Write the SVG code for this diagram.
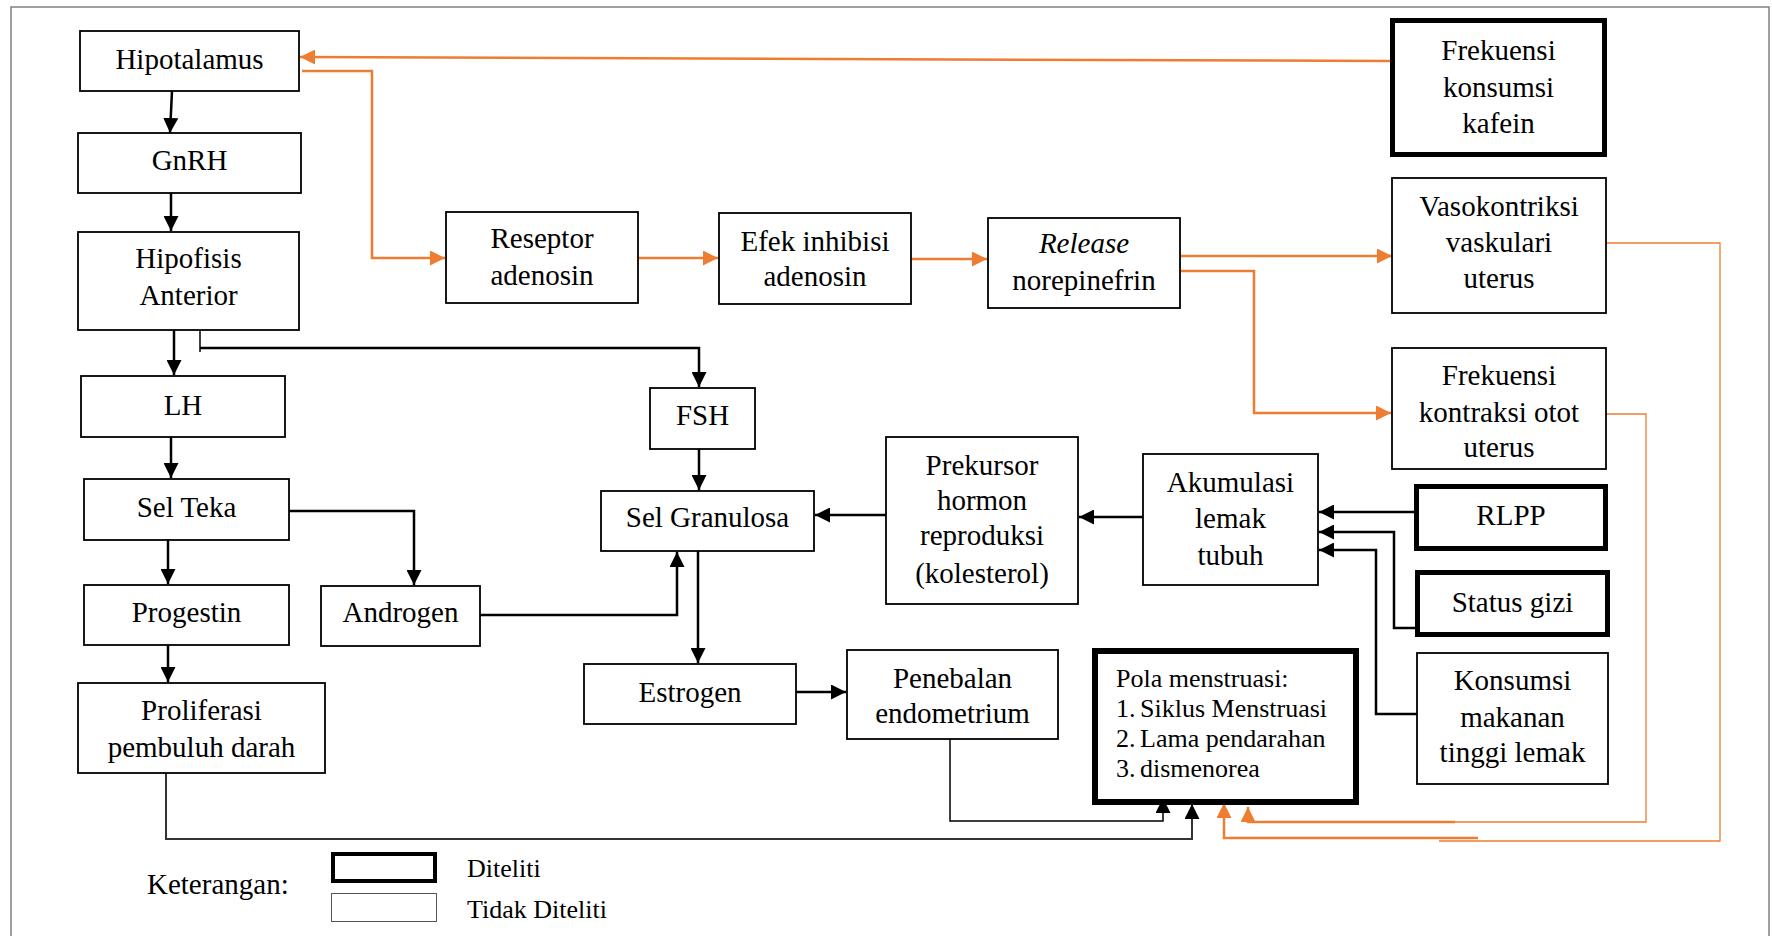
<svg xmlns="http://www.w3.org/2000/svg" width="1772" height="936" viewBox="0 0 1772 936">
<defs>
<style>
.box{fill:#fff;stroke:#000;stroke-width:1.8}
.thick{fill:#fff;stroke:#000;stroke-width:5}
.t{font-family:"Liberation Serif","Times New Roman",serif;font-size:29px;fill:#000;text-anchor:middle}
.tl{font-family:"Liberation Serif","Times New Roman",serif;font-size:26px;fill:#000}
.lg{font-family:"Liberation Serif","Times New Roman",serif;font-size:26px;fill:#000}
.lk{font-family:"Liberation Serif","Times New Roman",serif;font-size:29px;fill:#000}
.k{fill:none;stroke:#000;stroke-width:2.5}
.kt{fill:none;stroke:#000;stroke-width:1.5}
.o{fill:none;stroke:#ED7D31;stroke-width:2.5}
.ot{fill:none;stroke:#ED7D31;stroke-width:1.3}
</style>
<marker id="ab" viewBox="0 0 15 15" refX="15" refY="7.5" markerWidth="15" markerHeight="15" markerUnits="userSpaceOnUse" orient="auto"><path d="M0,0 L15,7.5 L0,15 z" fill="#000"/></marker>
<marker id="ao" viewBox="0 0 15 15" refX="15" refY="7.5" markerWidth="15" markerHeight="15" markerUnits="userSpaceOnUse" orient="auto"><path d="M0,0 L15,7.5 L0,15 z" fill="#ED7D31"/></marker>
</defs>
<rect x="0" y="0" width="1772" height="936" fill="#fff"/>
<rect x="11" y="7" width="1758" height="945" fill="none" stroke="#808080" stroke-width="1.5"/>

<g id="connectors">
<path class="k" d="M172,91 L170,133" marker-end="url(#ab)"/>
<path class="k" d="M171,193 V231" marker-end="url(#ab)"/>
<path class="k" d="M174,330 V375" marker-end="url(#ab)"/>
<path class="kt" d="M200,328 V352"/>
<path class="k" d="M200,348 H699 V387" marker-end="url(#ab)"/>
<path class="k" d="M171,437 V478" marker-end="url(#ab)"/>
<path class="k" d="M168,540 V584" marker-end="url(#ab)"/>
<path class="k" d="M289,511 H414 V585" marker-end="url(#ab)"/>
<path class="k" d="M168,645 V682" marker-end="url(#ab)"/>
<path class="k" d="M480,615 H677 V552" marker-end="url(#ab)"/>
<path class="k" d="M699,449 V490" marker-end="url(#ab)"/>
<path class="k" d="M698,551 V663" marker-end="url(#ab)"/>
<path class="k" d="M886,515 H815" marker-end="url(#ab)"/>
<path class="k" d="M1143,517 H1079" marker-end="url(#ab)"/>
<path class="k" d="M796,692 H846" marker-end="url(#ab)"/>
<path class="k" d="M1414,512 H1319" marker-end="url(#ab)"/>
<path class="k" d="M1415,628 H1394 V532 H1319" marker-end="url(#ab)"/>
<path class="k" d="M1417,714 H1376 V550 H1319" marker-end="url(#ab)"/>
<path class="kt" d="M950,739 V821 H1163 V798" marker-end="url(#ab)"/>
<path fill="none" stroke="#333" stroke-width="2" d="M166,773 V839 H1192 V804" marker-end="url(#ab)"/>
<path class="o" d="M1390,61 L300,57" marker-end="url(#ao)"/>
<path class="o" d="M302,71 H372 V258 H445" marker-end="url(#ao)"/>
<path class="o" d="M639,258 H718" marker-end="url(#ao)"/>
<path class="o" d="M912,259 H987" marker-end="url(#ao)"/>
<path class="o" d="M1181,256 H1392" marker-end="url(#ao)"/>
<path class="o" d="M1181,271 H1254 V413 H1391" marker-end="url(#ao)"/>
<path class="ot" d="M1606,414 H1646 V822 H1455"/>
<path class="o" d="M1455,822 H1248 V807" marker-end="url(#ao)"/>
<path class="ot" d="M1606,243 H1720 V841 H1439"/>
<path class="o" d="M1478,838 H1224 V803" marker-end="url(#ao)"/>
</g>

<g id="hipotalamus"><rect class="box" x="80" y="31" width="219" height="60"/><text class="t" x="189.5" y="69">Hipotalamus</text></g>
<g id="gnrh"><rect class="box" x="78" y="133" width="223" height="60"/><text class="t" x="189.5" y="170">GnRH</text></g>
<g id="hipofisis"><rect class="box" x="78" y="232" width="221" height="98"/><text class="t" x="188.5" y="268">Hipofisis</text><text class="t" x="188.5" y="305">Anterior</text></g>
<g id="lh"><rect class="box" x="81" y="376" width="204" height="61"/><text class="t" x="183" y="415">LH</text></g>
<g id="selteka"><rect class="box" x="84" y="479" width="205" height="61"/><text class="t" x="186.5" y="517">Sel Teka</text></g>
<g id="progestin"><rect class="box" x="84" y="585" width="205" height="60"/><text class="t" x="186.5" y="622">Progestin</text></g>
<g id="androgen"><rect class="box" x="321" y="586" width="159" height="60"/><text class="t" x="400.5" y="622">Androgen</text></g>
<g id="proliferasi"><rect class="box" x="78" y="683" width="247" height="90"/><text class="t" x="201.5" y="720">Proliferasi</text><text class="t" x="201.5" y="757">pembuluh darah</text></g>
<g id="reseptor"><rect class="box" x="446" y="212" width="192" height="91"/><text class="t" x="542" y="248">Reseptor</text><text class="t" x="542" y="285">adenosin</text></g>
<g id="efek"><rect class="box" x="719" y="213" width="192" height="91"/><text class="t" x="815" y="251">Efek inhibisi</text><text class="t" x="815" y="286">adenosin</text></g>
<g id="release"><rect class="box" x="988" y="218" width="192" height="90"/><text class="t" x="1084" y="253" style="font-style:italic">Release</text><text class="t" x="1084" y="290">norepinefrin</text></g>
<g id="kafein"><rect class="thick" x="1392.5" y="20.5" width="212" height="134"/><text class="t" x="1498.5" y="60">Frekuensi</text><text class="t" x="1498.5" y="97">konsumsi</text><text class="t" x="1498.5" y="133">kafein</text></g>
<g id="vasokontriksi"><rect class="box" x="1392" y="178" width="214" height="135"/><text class="t" x="1499" y="216">Vasokontriksi</text><text class="t" x="1499" y="252">vaskulari</text><text class="t" x="1499" y="288">uterus</text></g>
<g id="kontraksi"><rect class="box" x="1392" y="348" width="214" height="121"/><text class="t" x="1499" y="385">Frekuensi</text><text class="t" x="1499" y="422">kontraksi otot</text><text class="t" x="1499" y="457">uterus</text></g>
<g id="fsh"><rect class="box" x="650" y="388" width="105" height="61"/><text class="t" x="702.5" y="425">FSH</text></g>
<g id="selgranulosa"><rect class="box" x="601" y="491" width="213" height="60"/><text class="t" x="707.5" y="527">Sel Granulosa</text></g>
<g id="prekursor"><rect class="box" x="886" y="437" width="192" height="167"/><text class="t" x="982" y="475">Prekursor</text><text class="t" x="982" y="510">hormon</text><text class="t" x="982" y="545">reproduksi</text><text class="t" x="982" y="583">(kolesterol)</text></g>
<g id="akumulasi"><rect class="box" x="1143" y="454" width="175" height="131"/><text class="t" x="1230.5" y="492">Akumulasi</text><text class="t" x="1230.5" y="528">lemak</text><text class="t" x="1230.5" y="565">tubuh</text></g>
<g id="rlpp"><rect class="thick" x="1416.5" y="486.5" width="189" height="62"/><text class="t" x="1511" y="525">RLPP</text></g>
<g id="statusgizi"><rect class="thick" x="1417.5" y="572.5" width="190" height="62"/><text class="t" x="1512.5" y="612">Status gizi</text></g>
<g id="konsumsi"><rect class="box" x="1417" y="653" width="191" height="131"/><text class="t" x="1512.5" y="690">Konsumsi</text><text class="t" x="1512.5" y="727">makanan</text><text class="t" x="1512.5" y="762">tinggi lemak</text></g>
<g id="estrogen"><rect class="box" x="584" y="664" width="212" height="60"/><text class="t" x="690" y="702">Estrogen</text></g>
<g id="penebalan"><rect class="box" x="847" y="650" width="211" height="89"/><text class="t" x="952.5" y="688">Penebalan</text><text class="t" x="952.5" y="723">endometrium</text></g>
<g id="pola"><rect class="thick" x="1095" y="651" width="261" height="151" style="stroke-width:6"/>
<text class="tl" x="1116" y="687">Pola menstruasi:</text>
<text class="tl" x="1116" y="717">1.</text><text class="tl" x="1140" y="717">Siklus Menstruasi</text>
<text class="tl" x="1116" y="747">2.</text><text class="tl" x="1140" y="747">Lama pendarahan</text>
<text class="tl" x="1116" y="777">3.</text><text class="tl" x="1140" y="777">dismenorea</text></g>

<g id="legend">
<text class="lk" x="147" y="894">Keterangan:</text>
<rect x="333" y="854" width="102" height="27" fill="#fff" stroke="#000" stroke-width="4"/>
<rect x="331.5" y="893.5" width="105" height="28" fill="#fff" stroke="#555" stroke-width="1"/>
<text class="lg" x="467" y="877">Diteliti</text>
<text class="lg" x="467" y="918">Tidak Diteliti</text>
</g>
</svg>
